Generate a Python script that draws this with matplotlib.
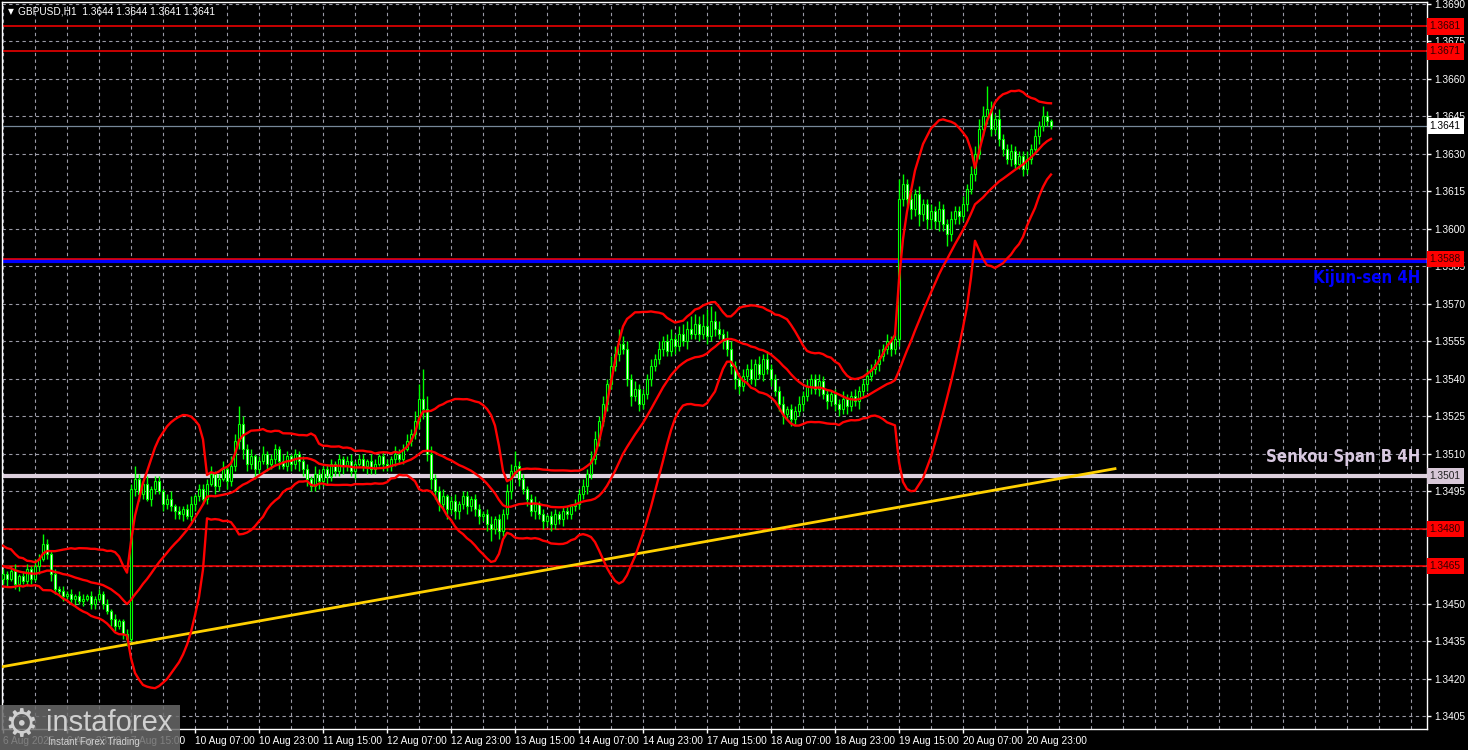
import numpy as np
import pandas as pd
import matplotlib
matplotlib.use("Agg")
import matplotlib.pyplot as plt
from matplotlib.transforms import blended_transform_factory
from matplotlib.patches import Rectangle

# ---------------- data (prices in 0.0001 units) ----------------
prior_closes = [13470, 13472, 13468, 13474, 13471, 13466, 13469, 13464, 13467, 13462,
                13465, 13460, 13463, 13466, 13461, 13464, 13459, 13462, 13465, 13460]

closes = [
    13462, 13460, 13463, 13458, 13461, 13459, 13464, 13460, 13465, 13468,
    13474, 13470, 13462,
    13456, 13455, 13453, 13454, 13452, 13453, 13451, 13452, 13453, 13450, 13452, 13454,
    13450, 13447, 13444, 13441, 13443, 13438, 13436,
    13496, 13500,
    13494, 13498, 13492, 13496, 13499, 13495, 13490, 13492, 13489, 13487,
    13486, 13488, 13485, 13490, 13493, 13496, 13492,
    13498, 13502, 13497, 13500, 13504, 13499, 13505,
    13515, 13522, 13512,
    13506, 13509, 13504, 13507, 13510, 13506, 13508, 13512, 13507, 13505, 13509, 13506, 13510, 13507, 13504,
    13500, 13497, 13502, 13499, 13504, 13501, 13506, 13503,
    13508, 13505, 13507, 13503, 13506, 13508, 13505, 13507, 13504, 13506, 13509, 13506, 13505, 13508, 13510, 13508,
    13512, 13515, 13518, 13523, 13532,
    13528, 13510, 13500, 13495,
    13490, 13493, 13488, 13491, 13487, 13490, 13493, 13489, 13492, 13488,
    13485, 13486, 13482, 13480, 13484, 13479,
    13486, 13495, 13503, 13505, 13500,
    13496, 13492, 13487, 13490, 13486, 13483, 13485, 13482, 13486,
    13484, 13487, 13486, 13489, 13490,
    13494, 13497, 13502, 13508, 13516,
    13523, 13530, 13538, 13545, 13550, 13554, 13552,
    13540, 13533, 13536, 13530, 13534,
    13540, 13545, 13548, 13552, 13555, 13551, 13556, 13553, 13558, 13555, 13560, 13558,
    13562, 13558, 13561, 13557, 13563, 13560, 13558, 13556, 13552,
    13545, 13540, 13537, 13541,
    13544, 13540, 13546, 13542, 13548, 13544, 13540,
    13535, 13530, 13526, 13528, 13524, 13527, 13530, 13533,
    13537, 13540, 13536, 13539, 13534, 13531, 13534, 13530,
    13528, 13532, 13529, 13533, 13531, 13535,
    13538, 13541, 13544, 13546, 13549, 13552, 13555, 13552,
    13556, 13612, 13618,
    13612, 13608, 13614, 13606, 13610, 13604,
    13607, 13603, 13608, 13602, 13598, 13604, 13607, 13605, 13610,
    13616, 13622, 13630, 13640, 13645,
    13648,
    13640, 13644, 13636, 13632, 13628, 13631, 13626,
    13629, 13624, 13628, 13632, 13637,
    13641, 13645, 13643, 13641,
]

first_open = 13460

wick_up = [
    2, 1, 2, 3, 1, 2, 2, 1, 3, 2,
    4, 2, 1,
    2, 1, 2, 1, 2, 1, 2, 2, 1, 2, 1, 2,
    1, 2, 1, 2, 1, 1, 2,
    2, 5,
    2, 1, 3, 1, 2, 2, 1, 2, 3, 1,
    2, 1, 2, 3, 1, 2, 2,
    2, 3, 1, 2, 3, 1, 4,
    3, 7, 3,
    2, 3, 1, 2, 3, 1, 2, 2, 1, 3, 2, 1, 2, 1, 2,
    2, 1, 3, 2, 1, 2, 2, 1,
    2, 1, 2, 3, 1, 2, 2, 1, 3, 2, 1, 2, 2, 1, 3, 2,
    2, 3, 2, 4, 6,
    12, 5, 3, 2,
    2, 3, 1, 2, 3, 1, 2, 2, 1, 2,
    2, 1, 2, 3, 1, 2,
    2, 3, 3, 6, 2,
    2, 1, 2, 3, 1, 2, 1, 2, 2,
    1, 2, 2, 1, 2,
    2, 3, 2, 3, 3,
    2, 3, 2, 4, 3, 6, 3,
    3, 2, 3, 2, 2,
    2, 3, 2, 3, 2, 3, 4, 2, 3, 4, 3, 5,
    4, 3, 5, 7, 6, 4, 3, 2, 3,
    3, 2, 2, 3,
    2, 4, 2, 3, 2, 3, 2,
    2, 2, 3, 1, 2, 2, 3, 2,
    3, 2, 2, 3, 2, 2, 1, 2,
    2, 3, 2, 2, 3, 2,
    2, 3, 2, 2, 3, 2, 3, 2,
    2, 8, 4,
    2, 3, 2, 3, 2, 2,
    3, 2, 3, 2, 2, 3, 2, 2, 3,
    2, 3, 3, 4, 4,
    9,
    3, 2, 4, 2, 2, 3, 2,
    2, 2, 3, 2, 3,
    2, 4, 2, 1,
]

wick_down = [
    2, 3, 1, 2, 3, 1, 2, 2, 1, 3,
    1, 2, 3,
    2, 1, 2, 1, 2, 3, 1, 2, 1, 2, 2, 1,
    2, 1, 3, 2, 1, 2, 3,
    1, 3,
    3, 2, 1, 3, 2, 1, 3, 2, 2, 3,
    2, 3, 1, 2, 3, 2, 2,
    2, 1, 3, 2, 1, 3, 2,
    2, 3, 4,
    3, 2, 4, 2, 1, 3, 2, 2, 3, 1, 2, 3, 2, 4, 3,
    3, 2, 2, 3, 2, 3, 2, 2,
    2, 3, 2, 2, 3, 1, 2, 3, 2, 2, 1, 3, 2, 2, 3, 2,
    2, 1, 2, 2, 3,
    4, 3, 4, 3,
    3, 2, 4, 2, 3, 3, 2, 3, 2, 3,
    3, 2, 3, 5, 2, 3,
    2, 2, 3, 2, 3,
    2, 3, 2, 3, 2, 3, 2, 3, 2,
    2, 3, 2, 2, 2,
    2, 2, 3, 2, 2,
    3, 2, 3, 2, 2, 3, 2,
    3, 4, 2, 3, 2,
    2, 3, 2, 2, 3, 2, 2, 3, 2, 2, 3, 2,
    2, 3, 2, 3, 2, 3, 2, 4, 3,
    3, 4, 3, 2,
    3, 2, 3, 2, 3, 2, 3,
    2, 3, 4, 2, 3, 2, 2, 3,
    2, 3, 2, 3, 2, 3, 2, 3,
    3, 2, 3, 2, 2, 3,
    2, 3, 2, 2, 3, 2, 2, 3,
    2, 3, 3,
    3, 4, 3, 5, 3, 4,
    4, 3, 4, 3, 5, 3, 2, 3, 2,
    3, 2, 3, 2, 3,
    3,
    3, 2, 3, 3, 2, 3, 2,
    2, 3, 2, 2, 2,
    3, 2, 2, 1,
]

# horizontal levels
red_levels = [1.3681, 1.3671, 1.3480, 1.3465]
current_price = 1.3641
kijun_4h = 1.3588
senkou_b_4h = 1.3501

# trend line (bar index, price)
trend_pts = [(-1, 1.34245), (278, 1.35040)]

# x tick labels every 16 bars starting at bar 0
x_tick_labels = ["6 Aug 2025", "6 Aug 23:00", "7 Aug 15:00", "10 Aug 07:00", "10 Aug 23:00",
                 "11 Aug 15:00", "12 Aug 07:00", "12 Aug 23:00", "13 Aug 15:00", "14 Aug 07:00",
                 "14 Aug 23:00", "17 Aug 15:00", "18 Aug 07:00", "18 Aug 23:00", "19 Aug 15:00",
                 "20 Aug 07:00", "20 Aug 23:00"]

title_text = "GBPUSD,H1  1.3644 1.3644 1.3641 1.3641"

# ---------------- derived ----------------
n = min(len(closes), len(wick_up), len(wick_down))
c = np.array(closes[:n], dtype=float) / 1e4
o = np.concatenate([[first_open / 1e4], c[:-1]])
hi = np.maximum(o, c) + np.array(wick_up[:n]) / 1e4
lo = np.minimum(o, c) - np.array(wick_down[:n]) / 1e4
idx = np.arange(n)

full = pd.Series(np.concatenate([np.array(prior_closes) / 1e4, c]))
mid = full.rolling(20).mean()
sd = full.rolling(20).std(ddof=0)
mid = mid.values[len(prior_closes):]
up = mid + 2 * sd.values[len(prior_closes):]
dn = mid - 2 * sd.values[len(prior_closes):]

# ---------------- figure ----------------
W, H = 1468, 750
fig = plt.figure(figsize=(W / 100, H / 100), dpi=100, facecolor="black")
ax = fig.add_axes([2 / W, (H - 729) / H, (1427 - 2) / W, (729 - 2) / H])
ax.set_facecolor("black")

px_per_bar = 4.0
ax.set_xlim(-0.25, -0.25 + 1425 / px_per_bar)
ax.set_ylim(1.33998, 1.36908)

for s in ax.spines.values():
    s.set_color("white")
    s.set_linewidth(1)

ui_font = ["Liberation Sans", "DejaVu Sans"]
yt = np.round(np.arange(1.3405, 1.36901, 0.0015), 4)
hidden_ticks = {round(v, 4) for v in red_levels}
ax.set_yticks(yt)
ax.set_yticklabels(["" if round(v, 4) in hidden_ticks else f"{v:.4f}" for v in yt])
ax.yaxis.tick_right()
xt = np.arange(0, 16 * len(x_tick_labels), 16)
ax.set_xticks(xt)
ax.set_xticklabels(x_tick_labels)
for lab in ax.get_xticklabels():
    lab.set_horizontalalignment("left")
ax.tick_params(axis="both", colors="white", labelcolor="white", length=3, width=1,
               labelsize=7.3, pad=2)
for lab in ax.get_xticklabels() + ax.get_yticklabels():
    lab.set_fontfamily(ui_font)

# grid
grid_kw = dict(color="#9a9aa6", linewidth=0.8, linestyle=(0, (3, 3)), zorder=0.5)
for v in yt:
    ax.axhline(v, **grid_kw)
for v in np.arange(0, 360, 8):
    ax.axvline(v, **grid_kw)

# levels
for lv in red_levels:
    ax.axhline(lv, color="#ff0000", linewidth=1.1, zorder=2)
ax.axhline(current_price, color="#778899", linewidth=0.9, zorder=2)
ax.axhline(kijun_4h - 0.00008, color="#0000ff", linewidth=3, zorder=2)
ax.axhline(kijun_4h, color="#ff0000", linewidth=1.1, zorder=2.1)
ax.axhline(senkou_b_4h, color="#dccfdc", linewidth=3, zorder=2)

# trend line
(tx0, ty0), (tx1, ty1) = trend_pts
ax.plot([tx0, tx1], [ty0, ty1], color="#ffd000", linewidth=2, zorder=3)

# candles
ax.vlines(idx, lo, hi, color="#00ff00", linewidth=1, zorder=4)
bull = c >= o
body_b = np.minimum(o, c)
body_h = np.maximum(np.abs(c - o), 0.00003)
ax.bar(idx[bull], body_h[bull], bottom=body_b[bull], width=0.55, color="black",
       edgecolor="#00ff00", linewidth=0.8, zorder=4.1)
ax.bar(idx[~bull], body_h[~bull], bottom=body_b[~bull], width=0.55, color="white",
       edgecolor="#00ff00", linewidth=0.8, zorder=4.1)

# bollinger bands
for line in (up, mid, dn):
    ax.plot(idx, line, color="#ff0000", linewidth=1.7, zorder=5)

# labels on chart
bold_narrow = ["DejaVu Sans"]
ax.text(354.2, 1.35803, "Kijun-sen 4H", color="#0000ff", fontsize=12, fontweight="bold",
        family=bold_narrow, fontstretch="condensed", ha="right", va="center", zorder=6)
ax.text(354.2, 1.35087, "Senkou Span B 4H", color="#d8c8e0", fontsize=12, fontweight="bold",
        family=bold_narrow, fontstretch="condensed", ha="right", va="center", zorder=6)

# price boxes on the right axis
tr = blended_transform_factory(ax.transAxes, ax.transData)
def price_box(v, fc, tc):
    ax.text(1.0018, v, f"{v:.4f}", transform=tr, ha="left", va="center", fontsize=7.3,
            color=tc, family=ui_font, clip_on=False, zorder=10,
            bbox=dict(boxstyle="square,pad=0.3", fc=fc, ec="none"))
for lv in red_levels:
    price_box(lv, "#ff0000", "#300000")
price_box(kijun_4h, "#ff0000", "#300000")
price_box(current_price, "white", "black")
price_box(senkou_b_4h, "#d8c8d8", "#202020")

# title
fig.text(8 / W, 1 - 12 / H, "\u25bc", color="white", fontsize=5.5, va="center", ha="left")
fig.text(18 / W, 1 - 11 / H, title_text, color="white", fontsize=7.3, va="center", ha="left",
         family=ui_font)

# logo
fig.patches.append(Rectangle((0, 0), 180 / W, 45 / H, transform=fig.transFigure,
                             facecolor="#6a6a6a", alpha=0.85, edgecolor="none", zorder=20))
fig.text(4 / W, 24 / H, "\u2699", color="#d0d0d0", fontsize=27, va="center", ha="left", zorder=21)
fig.text(46 / W, 27 / H, "instaforex", color="#d0d0d0", fontsize=21, va="center", ha="left",
         family=ui_font, zorder=21)
fig.text(48 / W, 8 / H, "Instant Forex Trading", color="#d0d0d0", fontsize=7, va="center",
         ha="left", family=ui_font, zorder=21)

fig.savefig("out.png", dpi=100, facecolor="black")
